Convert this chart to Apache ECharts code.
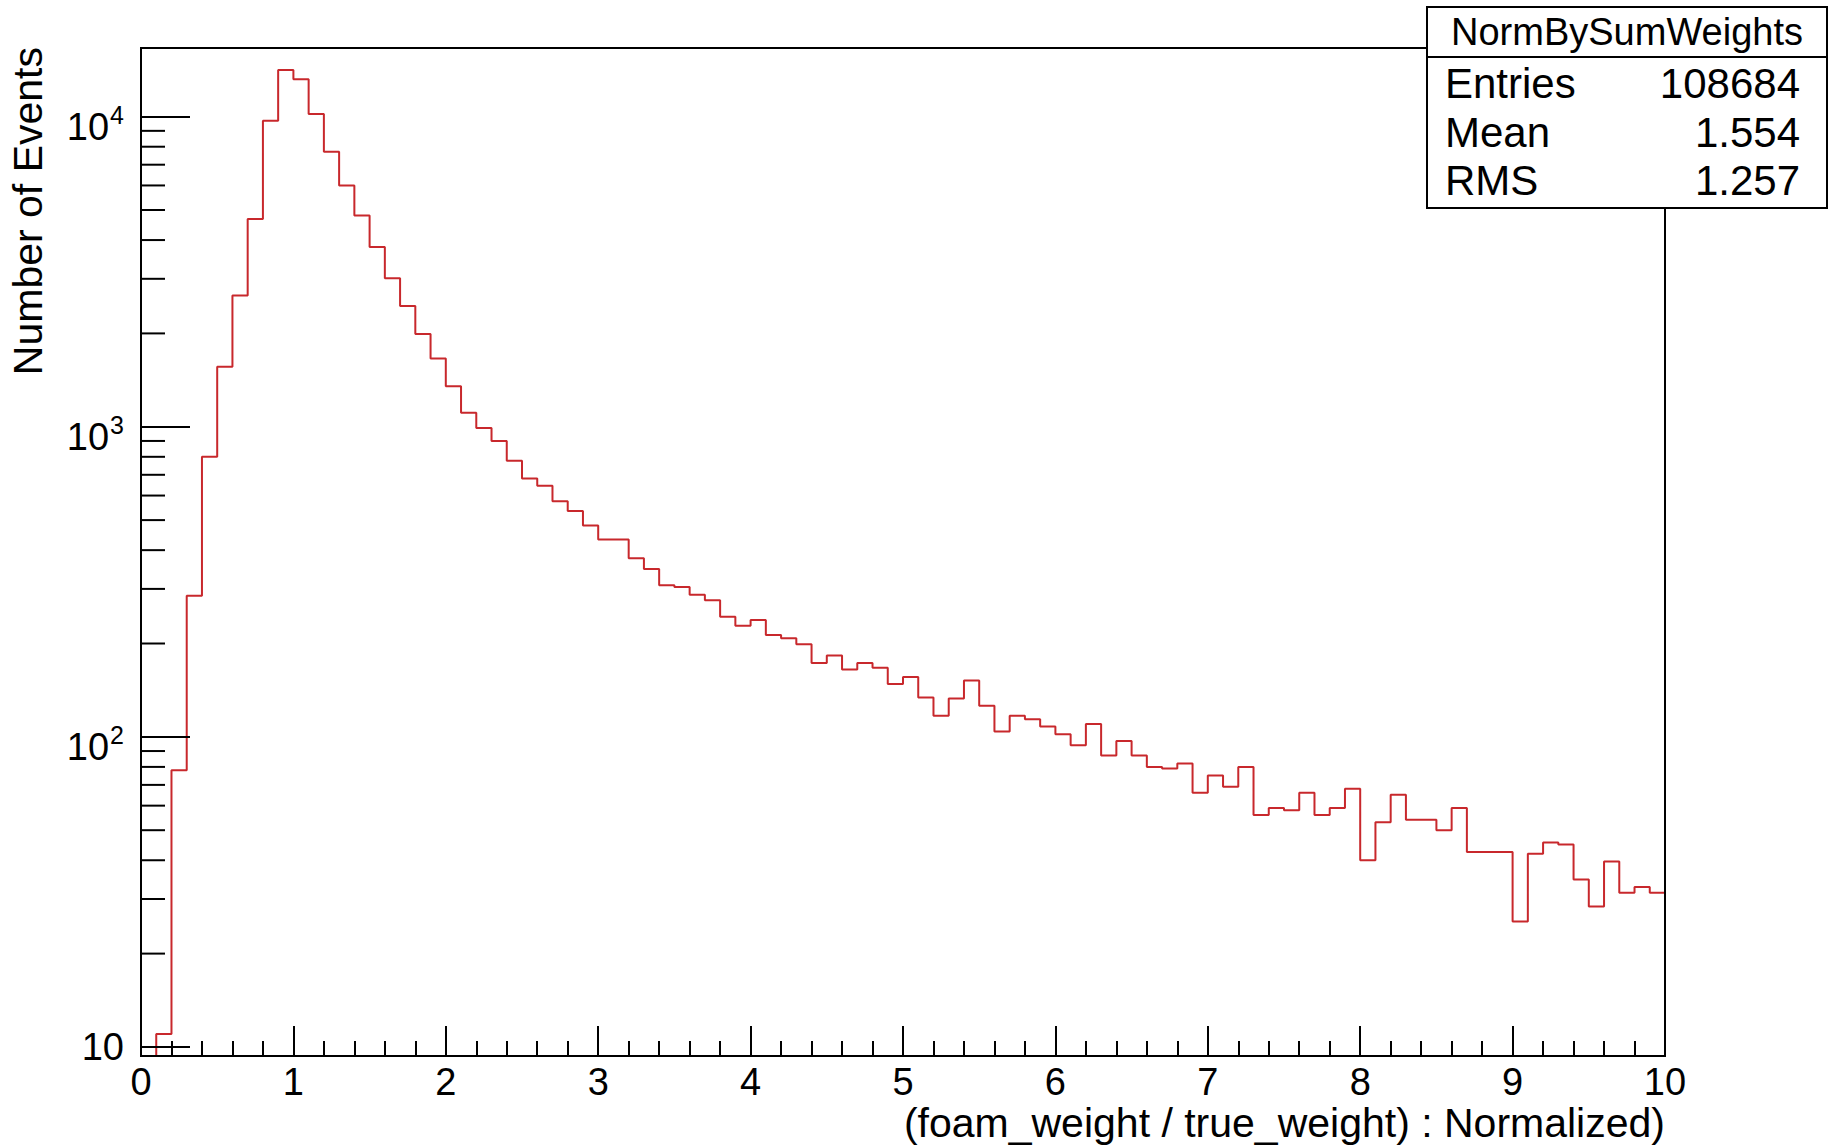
<!DOCTYPE html>
<html>
<head>
<meta charset="utf-8">
<title>NormBySumWeights</title>
<script src="https://cdn.jsdelivr.net/npm/echarts@6.0.0/dist/echarts.min.js"></script>
<style>
  html, body { margin: 0; padding: 0; background: #fff; }
  #chart { width: 1831px; height: 1145px; }
</style>
</head>
<body>
<div id="chart"></div>
<script>
// histogram: 100 bins of width 0.1 between 0 and 10 (bin 0 is empty)
const binWidth = 0.1;
const counts = [
  0, 11, 78, 285, 800, 1560, 2650, 4680, 9700, 14150,
  13200, 10200, 7700, 6000, 4800, 3800, 3010, 2450, 1990, 1660,
  1350, 1110, 990, 900, 777, 681, 645, 575, 535, 480,
  433, 433, 377, 348, 308, 304, 287, 276, 244, 228,
  238, 213, 208, 199, 173, 183, 165, 173, 167, 148,
  156, 134, 117, 133, 152, 126, 104, 117, 114, 108,
  102, 94, 110, 87, 97, 87, 80, 79, 82, 66,
  75, 69, 80, 56, 59, 58, 66, 56, 59, 68,
  40, 53, 65, 54, 54, 50, 59, 42.5, 42.5, 42.5,
  25.4, 42, 45.6, 45, 34.7, 28.4, 39.6, 31.4, 32.8, 31.4
];

// axis ranges and the small log ticks (2..9 x 10^n)
const xMin = 0, xMax = 10;
const yMin = 9.35, yMax = 16650;
const yMinorTicks = [20, 30, 40, 50, 60, 70, 80, 90,
  200, 300, 400, 500, 600, 700, 800, 900,
  2000, 3000, 4000, 5000, 6000, 7000, 8000, 9000];

const xTitle = '(foam_weight / true_weight) : Normalized)';
const yTitle = 'Number of Events';
const statsTitle = 'NormBySumWeights';
const statsLabels = ['Entries', 'Mean', 'RMS'];
const statsValues = ['108684', '1.554', '1.257'];

const FONT = '"Liberation Sans", Arial, Helvetica, sans-serif';

// step line points at the left edge of every bin, plus the right edge of the last one
// empty bins sit on the bottom of the frame, like ROOT draws them on a log scale
const stepData = counts.map((c, i) => [+(i * binWidth).toFixed(1), c > 0 ? c : yMin]);
stepData.push([xMax, counts[counts.length - 1]]);

const chart = echarts.init(document.getElementById('chart'), null, { renderer: 'svg' });

// stats box in the upper right corner
const boxX = 1427, boxY = 7, boxW = 400, boxH = 201;
const statsGraphics = [
  { type: 'rect', shape: { x: boxX, y: boxY, width: boxW, height: boxH },
    style: { fill: '#fff', stroke: '#000', lineWidth: 2 }, z: 100 },
  { type: 'line', shape: { x1: boxX, y1: 57, x2: boxX + boxW, y2: 57 },
    style: { stroke: '#000', lineWidth: 2 }, z: 101 },
  { type: 'text', x: boxX + boxW / 2, y: 32, z: 101,
    style: { text: statsTitle, font: '38px ' + FONT, fill: '#000',
      textAlign: 'center', textVerticalAlign: 'middle' } }
];
const rowY = [83, 132, 180];
statsLabels.forEach((lab, i) => {
  statsGraphics.push({ type: 'text', x: 1445, y: rowY[i], z: 101,
    style: { text: lab, font: '42px ' + FONT, fill: '#000', textAlign: 'left', textVerticalAlign: 'middle' } });
  statsGraphics.push({ type: 'text', x: 1800, y: rowY[i], z: 101,
    style: { text: statsValues[i], font: '42px ' + FONT, fill: '#000', textAlign: 'right', textVerticalAlign: 'middle' } });
});

const option = {
  backgroundColor: '#fff',
  animation: false,
  grid: {
    left: 141, right: 166, top: 48, bottom: 89,
    show: true, borderColor: '#000', borderWidth: 2, containLabel: false
  },
  xAxis: {
    type: 'value',
    min: xMin, max: xMax, interval: 1,
    axisLine: { show: true, onZero: false, lineStyle: { color: '#000', width: 2 } },
    axisTick: { show: true, inside: true, length: 30, lineStyle: { color: '#000', width: 2 } },
    minorTick: { show: true, splitNumber: 5, length: 15, lineStyle: { color: '#000', width: 2 } },
    splitLine: { show: false },
    axisLabel: { color: '#000', fontSize: 38, lineHeight: 34, fontFamily: FONT, margin: 9 }
  },
  yAxis: {
    type: 'log', logBase: 10,
    min: yMin, max: yMax,
    axisLine: { show: true, lineStyle: { color: '#000', width: 2 } },
    axisTick: { show: true, inside: true, length: 49, lineStyle: { color: '#000', width: 2 } },
    splitLine: { show: false },
    axisLabel: {
      margin: 17, color: '#000', fontFamily: FONT,
      showMinLabel: false, showMaxLabel: false,
      formatter: function (v) {
        const e = Math.log10(v);
        const n = Math.round(e);
        if (Math.abs(e - n) > 1e-6) return '';
        return n === 1 ? '{b|10}' : '{p|10}{s|' + n + '}';
      },
      rich: {
        b: { fontSize: 38, fontFamily: FONT, color: '#000' },
        p: { fontSize: 38, lineHeight: 38, fontFamily: FONT, color: '#000', padding: [10, 0, 0, 0], verticalAlign: 'top' },
        s: { fontSize: 25, lineHeight: 25, fontFamily: FONT, color: '#000', padding: [5, 0, 0, 1], verticalAlign: 'top' }
      }
    }
  },
  graphic: [
    { type: 'text', x: 1665, y: 1123,
      style: { text: xTitle, font: '41px ' + FONT, lineHeight: 40, fill: '#000', textAlign: 'right', textVerticalAlign: 'middle' } },
    { type: 'text', x: 28, y: 47, rotation: Math.PI / 2,
      style: { text: yTitle, font: '41px ' + FONT, fill: '#000', textAlign: 'right', textVerticalAlign: 'middle' } }
  ].concat(statsGraphics),
  series: [
    {
      name: 'NormBySumWeights',
      type: 'line',
      step: 'end',
      data: stepData,
      symbol: 'none',
      clip: true,
      lineStyle: { color: '#c8282c', width: 2 },
      z: -1
    },
    {
      // minor ticks of the log axis
      type: 'custom',
      silent: true,
      clip: false,
      data: yMinorTicks.map(v => [xMin, v]),
      renderItem: function (params, api) {
        const p = api.coord([api.value(0), api.value(1)]);
        return {
          type: 'line',
          shape: { x1: p[0], y1: p[1], x2: p[0] + 24, y2: p[1] },
          style: { stroke: '#000', lineWidth: 2 }
        };
      },
      z: 4
    }
  ]
};

chart.setOption(option);
</script>
</body>
</html>
